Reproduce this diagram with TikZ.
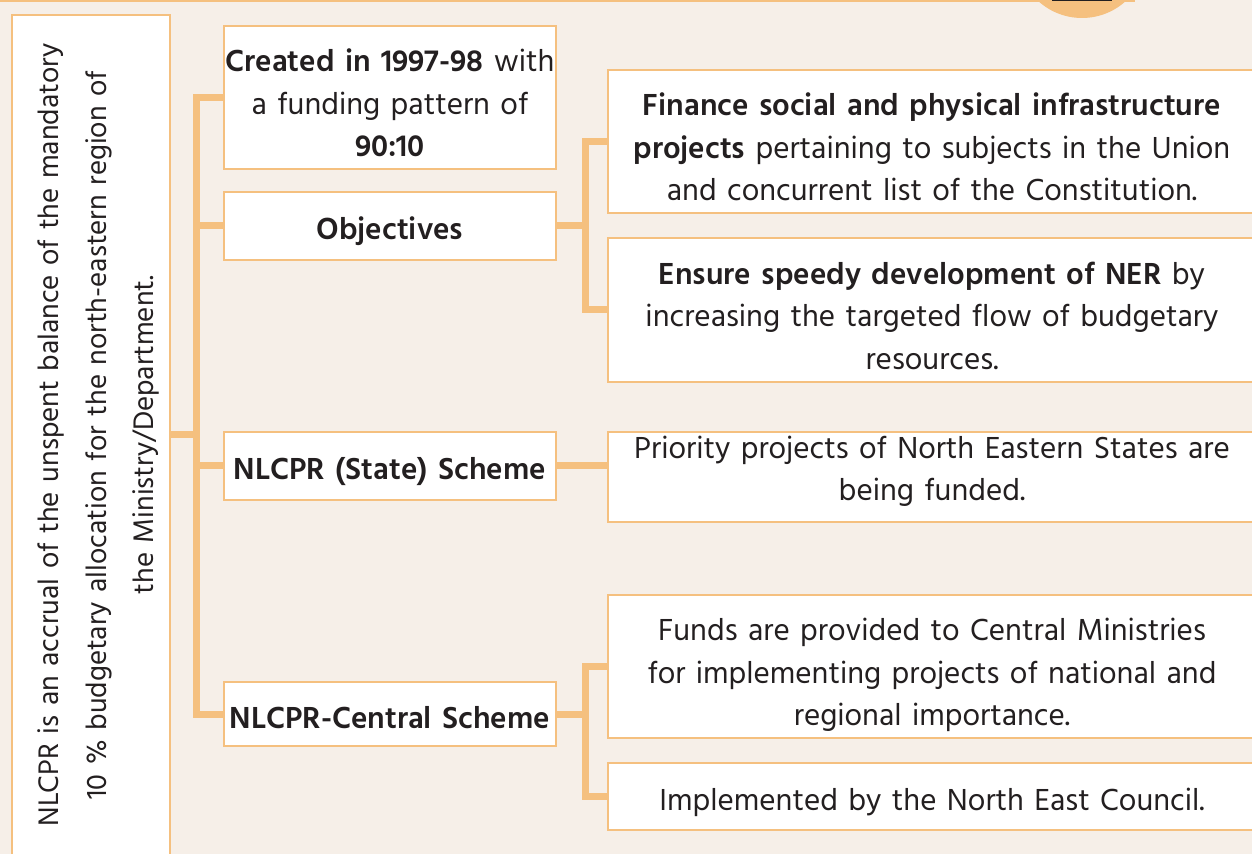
\documentclass[tikz,border=0pt]{standalone}
\usepackage{fontspec}
\setmainfont{Hind Siliguri}
\definecolor{pagebg}{HTML}{F6EFE8}
\definecolor{lineorange}{HTML}{F5C07F}
\definecolor{inkdark}{HTML}{231F20}
\newcommand{\topgap}{\rule{0pt}{17pt}}
\tikzset{
	box/.style={rectangle,draw=lineorange,line width=1pt,fill=white,inner sep=0pt,align=center,text=inkdark,font=\fontsize{15.6}{21.25}\selectfont},
	link/.style={draw=lineorange,line width=3.5pt},
}
\begin{document}
\begin{tikzpicture}[x=0.5pt,y=-0.5pt]
	\useasboundingbox (0,0) rectangle (1252,854);
	\clip (0,0) rectangle (1252,854);
	\fill[pagebg] (0,0) rectangle (1252,854);
	\draw[lineorange,line width=1pt] (0,1) -- (1135,1);
	\fill[lineorange] (1082,-47) circle (32.5pt);
	\fill[inkdark] (1052,0) rectangle (1112,1.5);
	
	\node (nlcpr) at (91,435) [box,rotate=90,text width=420pt,minimum height=79pt,font=\fontsize{14.5}{23.75}\selectfont] {\rule{0pt}{18pt}NLCPR is an accrual of the unspent balance of the mandatory\\ 10 \% budgetary allocation for the north-eastern region of\\ the Ministry/Department.};
	
	\node (created) at (390,97.5) [box,text width=166pt,minimum height=71.5pt] {\topgap\textbf{Created in 1997-98} with\\ a funding pattern of\\ \textbf{90:10}};
	\node (objectives) at (390,226) [box,text width=166pt,minimum height=34pt] {\topgap\textbf{Objectives}};
	\node (state) at (390,466) [box,text width=166pt,minimum height=34pt] {\topgap\textbf{NLCPR (State) Scheme}};
	\node (central) at (390,714) [box,text width=166pt,minimum height=32pt] {\rule{0pt}{15pt}\textbf{NLCPR-Central Scheme}};
	
	\node (finance) at (932,141.5) [box,text width=324pt,minimum height=71.5pt] {\topgap\textbf{Finance social and physical infrastructure}\\ \textbf{projects} pertaining to subjects in the Union\\ and concurrent list of the Constitution.};
	\node (ensure) at (932,310) [box,text width=324pt,minimum height=72pt] {\topgap\textbf{Ensure speedy development of NER} by\\ increasing the targeted flow of budgetary\\ resources.};
	\node (priority) at (932,477) [box,text width=324pt,minimum height=45pt] {Priority projects of North Eastern States are\\ being funded.\rule[-8.5pt]{0pt}{1pt}};
	\node (funds) at (932,666.5) [box,text width=324pt,minimum height=71.5pt] {\rule{0pt}{20pt}Funds are provided to Central Ministries\\ for implementing projects of national and\\ regional importance.};
	\node (council) at (932,796.5) [box,text width=324pt,minimum height=33.5pt] {\topgap Implemented by the North East Council.};
	
	% connectors
	\coordinate (ltrunk) at (196,0);
	\coordinate (rtrunk) at (585,0);
	\draw[link] (nlcpr.south) -- (nlcpr.south -| ltrunk);
	\draw[link] (created.west) -| (ltrunk |- central.west) -- (central.west);
	\draw[link] (objectives.west) -- (objectives.west -| ltrunk);
	\draw[link] (state.west) -- (state.west -| ltrunk);
	\draw[link] (finance.west) -| (rtrunk |- ensure.west) -- (ensure.west);
	\draw[link] (objectives.east) -- (objectives.east -| rtrunk);
	\draw[link] (funds.west) -| (rtrunk |- council.west) -- (council.west);
	\draw[link] (central.east) -- (central.east -| rtrunk);
	\draw[link] (state.east) -- (state.east -| priority.west);
\end{tikzpicture}
\end{document}
